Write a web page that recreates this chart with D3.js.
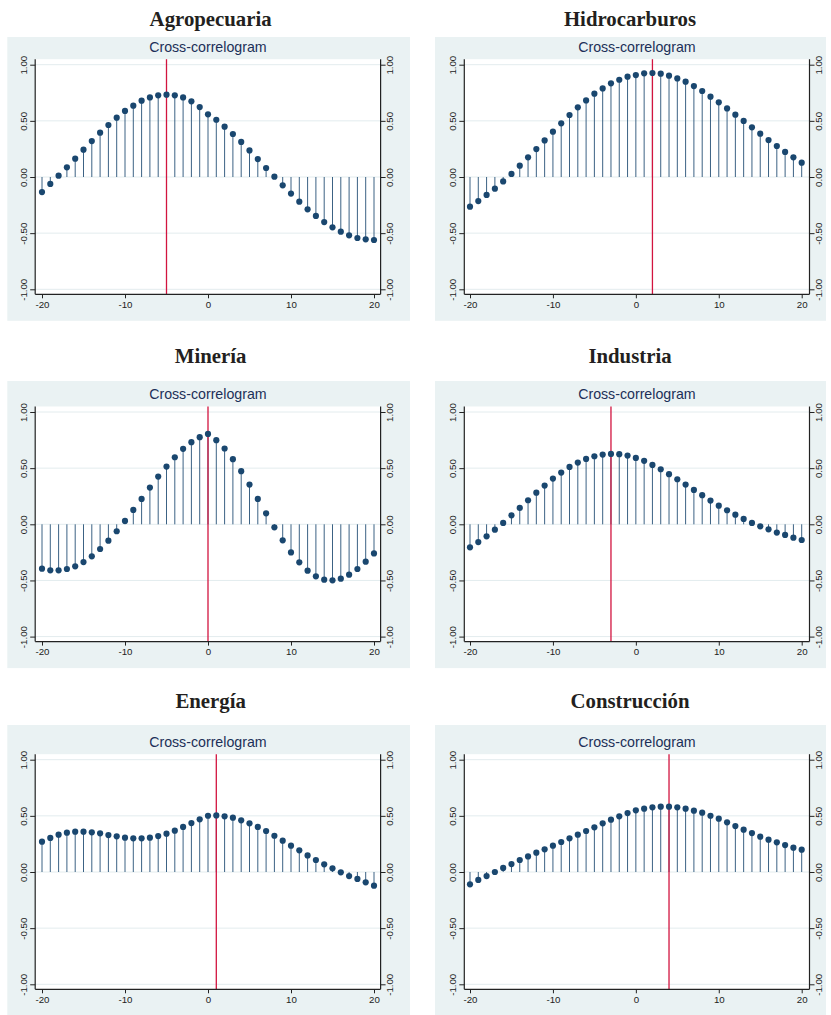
<!DOCTYPE html>
<html>
<head>
<meta charset="utf-8">
<script src="https://cdn.jsdelivr.net/npm/d3@7"></script>
<style>
  body { margin: 0; background: #fff; }
  svg { display: block; }
</style>
</head>
<body>
<svg id="chart" width="831" height="1015"></svg>
<script>
// lags -20..20
var lags = d3.range(-20, 21)

var sectors = ["Agropecuaria", "Hidrocarburos", "Minería", "Industria", "Energía", "Construcción"]

var agro = [-0.134, -0.062, 0.012, 0.086, 0.163, 0.243, 0.320, 0.395, 0.463, 0.528, 0.588,
  0.635, 0.680, 0.709, 0.727, 0.733, 0.727, 0.709, 0.674, 0.623, 0.558,
  0.510, 0.448, 0.383, 0.312, 0.237, 0.160, 0.080, 0.003, -0.074, -0.148,
  -0.220, -0.288, -0.347, -0.401, -0.448, -0.487, -0.519, -0.543, -0.555, -0.561]

var hidro = [-0.264, -0.214, -0.160, -0.104, -0.039, 0.027, 0.101, 0.175, 0.249, 0.326, 0.404,
  0.478, 0.552, 0.620, 0.682, 0.742, 0.789, 0.834, 0.866, 0.893, 0.908,
  0.923, 0.926, 0.920, 0.902, 0.878, 0.849, 0.810, 0.766, 0.715, 0.665,
  0.611, 0.555, 0.499, 0.442, 0.386, 0.329, 0.276, 0.223, 0.175, 0.128]

var mineria = [-0.395, -0.410, -0.410, -0.398, -0.374, -0.336, -0.285, -0.220, -0.146, -0.062, 0.030,
  0.128, 0.226, 0.327, 0.425, 0.514, 0.597, 0.672, 0.731, 0.776, 0.805,
  0.749, 0.675, 0.580, 0.473, 0.354, 0.226, 0.098, -0.027, -0.143, -0.250,
  -0.339, -0.413, -0.463, -0.493, -0.499, -0.484, -0.449, -0.398, -0.333, -0.259]

var industria = [-0.205, -0.158, -0.107, -0.048, 0.012, 0.080, 0.146, 0.214, 0.282, 0.345, 0.407,
  0.461, 0.511, 0.550, 0.582, 0.606, 0.621, 0.627, 0.624, 0.612, 0.591,
  0.565, 0.529, 0.490, 0.446, 0.401, 0.354, 0.306, 0.259, 0.211, 0.166,
  0.125, 0.086, 0.048, 0.012, -0.018, -0.045, -0.074, -0.095, -0.119, -0.140]

var energia = [0.270, 0.303, 0.332, 0.350, 0.359, 0.359, 0.353, 0.344, 0.329, 0.318, 0.306,
  0.300, 0.300, 0.306, 0.320, 0.341, 0.368, 0.401, 0.436, 0.469, 0.501,
  0.504, 0.496, 0.484, 0.460, 0.433, 0.401, 0.365, 0.323, 0.279, 0.234,
  0.193, 0.148, 0.107, 0.068, 0.033, -0.003, -0.036, -0.062, -0.092, -0.122]

var construccion = [-0.110, -0.071, -0.036, 0.000, 0.036, 0.071, 0.107, 0.139, 0.172, 0.202, 0.234,
  0.267, 0.300, 0.332, 0.365, 0.398, 0.433, 0.466, 0.496, 0.525, 0.549,
  0.564, 0.576, 0.582, 0.582, 0.576, 0.564, 0.546, 0.528, 0.501, 0.475,
  0.442, 0.409, 0.377, 0.347, 0.315, 0.288, 0.264, 0.240, 0.217, 0.199]

var seriesList = [agro, hidro, mineria, industria, energia, construccion]

// lag marked with the red line
var peakLags = [-5, 2, 0, -3, 1, 4]

var xTicks = [-20, -10, 0, 10, 20]
var yTicks = [-1, -0.5, 0, 0.5, 1]
var subtitle = "Cross-correlogram"

// layout
var colAxisLeft = [35.2, 464.3],
    colAxisRight = [380.6, 809.5],
    colLagMin = [42, 470],
    colLagMax = [374, 801.7],
    colBoxLeft = [7.3, 435],
    colBoxRight = [410, 826];

var rowYTop = [64.7, 412, 759.7],
    rowTitle = [26, 363, 707.7],
    rowSub = [52.3, 399.3, 747.3],
    rowBox = [37, 381, 725],
    unit = 112.3;

var bgColor = "#eaf2f3",
    gridColor = "#e3ecee",
    navy = "#1a476f",
    red = "#d2143f";

// plain hyphen for negatives, like the original
var fmtY = function(d) { return d3.format(".2f")(d).replace("\u2212", "-") }
var fmtX = function(d) { return String(d) }

var svg = d3.select("#chart")

sectors.forEach(function(name, i) {
  var col = i % 2, row = Math.floor(i / 2)
  var data = seriesList[i]

  var x = d3.scaleLinear().domain([-20, 20]).range([colLagMin[col], colLagMax[col]])
  var y = d3.scaleLinear().domain([-1, 1]).range([rowYTop[row] + 2 * unit, rowYTop[row]])

  var plotTop = rowYTop[row] - 5.5,
      plotBottom = y(-1) + 5,
      axL = colAxisLeft[col],
      axR = colAxisRight[col];

  var g = svg.append("g")

  // panel title
  g.append("text")
    .attr("x", (colBoxLeft[col] + colBoxRight[col]) / 2 + (col == 0 ? 2 : -0.5))
    .attr("y", rowTitle[row])
    .attr("text-anchor", "middle")
    .style("font-family", "'Liberation Serif', 'Times New Roman', serif")
    .style("font-weight", "bold")
    .style("font-size", "20.8px")
    .style("fill", "#231f20")
    .text(name)

  // graph region
  g.append("rect")
    .attr("x", colBoxLeft[col])
    .attr("y", rowBox[row])
    .attr("width", colBoxRight[col] - colBoxLeft[col])
    .attr("height", Math.min(y(-1) + 31.5, 1015) - rowBox[row])
    .style("fill", bgColor)

  // plot region
  g.append("rect")
    .attr("x", axL)
    .attr("y", plotTop)
    .attr("width", axR - axL)
    .attr("height", plotBottom - plotTop)
    .style("fill", "#fff")

  g.append("text")
    .attr("x", (axL + axR) / 2)
    .attr("y", rowSub[row])
    .attr("text-anchor", "middle")
    .style("font-family", "'Liberation Sans', Arial, sans-serif")
    .style("font-size", "14.2px")
    .style("fill", "#1c3058")
    .text(subtitle)

  // gridlines
  g.selectAll(".grid")
    .data(yTicks)
    .enter()
    .append("line")
    .attr("x1", axL)
    .attr("x2", axR)
    .attr("y1", function(d) { return y(d) })
    .attr("y2", function(d) { return y(d) })
    .style("stroke", gridColor)
    .style("stroke-width", 1)

  // spikes
  g.selectAll(".spike")
    .data(data)
    .enter()
    .append("line")
    .attr("x1", function(d, j) { return x(lags[j]) })
    .attr("x2", function(d, j) { return x(lags[j]) })
    .attr("y1", y(0))
    .attr("y2", function(d) { return y(d) })
    .style("stroke", navy)
    .style("stroke-opacity", 0.85)
    .style("stroke-width", 1)

  // peak lag line
  g.append("line")
    .attr("x1", x(peakLags[i]))
    .attr("x2", x(peakLags[i]))
    .attr("y1", plotTop)
    .attr("y2", plotBottom)
    .style("stroke", red)
    .style("stroke-width", 1.3)

  g.selectAll(".dot")
    .data(data)
    .enter()
    .append("circle")
    .attr("cx", function(d, j) { return x(lags[j]) })
    .attr("cy", function(d) { return y(d) })
    .attr("r", 3.1)
    .style("fill", navy)

  // axes
  var axisStyle = function(sel) {
    sel.select(".domain").style("stroke", "#222").style("stroke-width", 1.2)
    sel.selectAll(".tick line").style("stroke", "#222").style("stroke-width", 1)
    sel.selectAll("text")
      .style("font-family", "'Liberation Sans', Arial, sans-serif")
      .style("font-size", "9.7px")
      .style("fill", "#222")
  }

  var left = g.append("g")
    .attr("transform", "translate(" + axL + ",0)")
    .call(d3.axisLeft(y).tickValues(yTicks).tickFormat(fmtY).tickSize(5).tickSizeOuter(0))
  left.select(".domain").attr("d", "M0," + plotTop + "V" + plotBottom)
  left.selectAll(".tick text")
    .attr("x", null).attr("dy", null)
    .attr("transform", "translate(-8.5,0) rotate(-90)")
    .attr("text-anchor", "middle")
  axisStyle(left)

  var right = g.append("g")
    .attr("transform", "translate(" + axR + ",0)")
    .call(d3.axisRight(y).tickValues(yTicks).tickFormat(fmtY).tickSize(5).tickSizeOuter(0))
  right.select(".domain").attr("d", "M0," + plotTop + "V" + plotBottom)
  right.selectAll(".tick text")
    .attr("x", null).attr("dy", null)
    .attr("transform", "translate(12.8,0) rotate(-90)")
    .attr("text-anchor", "middle")
  axisStyle(right)

  var bottom = g.append("g")
    .attr("transform", "translate(0," + plotBottom + ")")
    .call(d3.axisBottom(x).tickValues(xTicks).tickFormat(fmtX).tickSize(4).tickSizeOuter(0))
  bottom.select(".domain").attr("d", "M" + axL + ",0H" + axR)
  bottom.selectAll(".tick text").attr("y", 6.5).attr("dy", "0.71em")
  axisStyle(bottom)
})
</script>
</body>
</html>
